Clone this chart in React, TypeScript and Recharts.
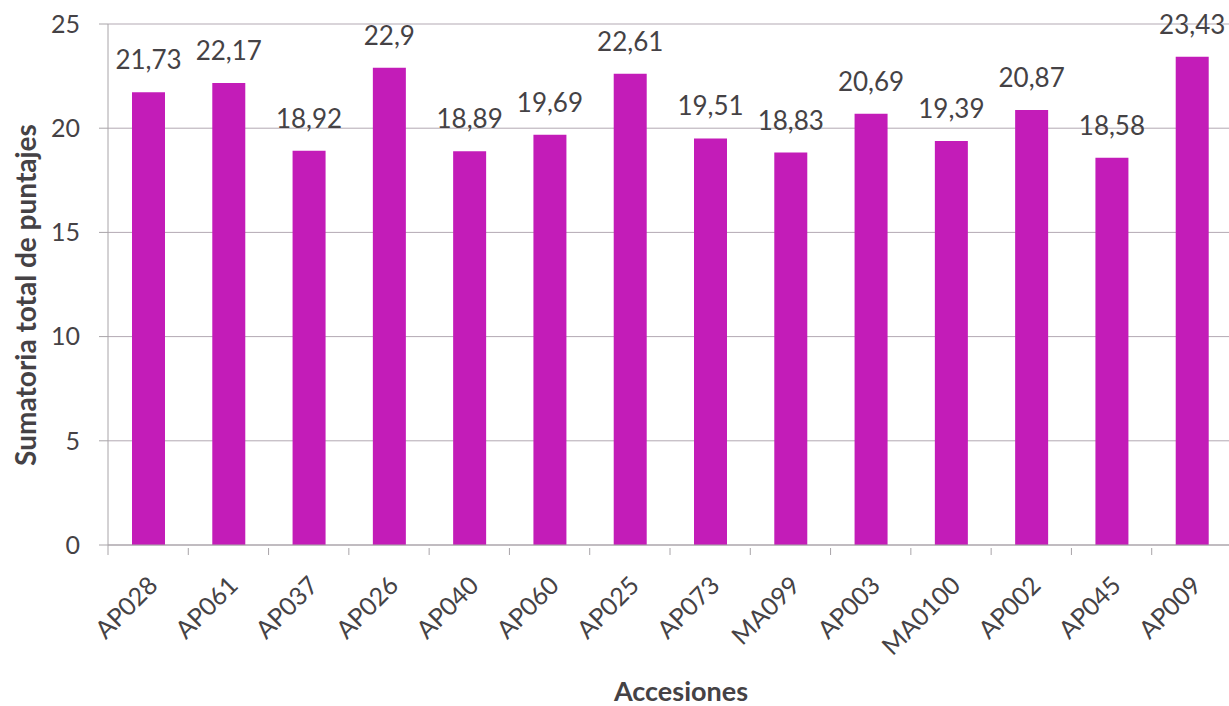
import { Bar, BarChart, CartesianGrid, LabelList, XAxis, YAxis } from 'recharts';

const categories = [
  'AP028', 'AP061', 'AP037', 'AP026', 'AP040', 'AP060', 'AP025',
  'AP073', 'MA099', 'AP003', 'MA0100', 'AP002', 'AP045', 'AP009',
];
const values = [
  21.73, 22.17, 18.92, 22.9, 18.89, 19.69, 22.61,
  19.51, 18.83, 20.69, 19.39, 20.87, 18.58, 23.43,
];
const yTicks = [0, 5, 10, 15, 20, 25];

const data = categories.map((name, i) => ({ name, value: values[i] }));

const WIDTH = 1240;
const HEIGHT = 706;
const MARGIN = { top: 24, right: 8, left: 0, bottom: 0 };
const Y_AXIS_W = 108;
const X_AXIS_H = 161;
const band = (WIDTH - MARGIN.left - MARGIN.right - Y_AXIS_W) / categories.length;
const axisY = HEIGHT - MARGIN.bottom - X_AXIS_H;

const textColor = '#454245';
const font = 'Lato, "Open Sans", sans-serif';

function CategoryTick(props: any) {
  const { x, payload, index } = props;
  const tx = x + 11;
  const ty = axisY + 42;
  return (
    <g>
      {index === 0 && (
        <line x1={x - band / 2} x2={x - band / 2} y1={axisY} y2={axisY + 10} stroke="#a8a4a8" />
      )}
      <line x1={x + band / 2} x2={x + band / 2} y1={axisY + 3} y2={axisY + 10} stroke="#a8a4a8" />
      <text
        x={tx}
        y={ty}
        transform={`rotate(-45 ${tx} ${ty})`}
        textAnchor="end"
        fontSize={25}
        fontFamily={font}
        fill={textColor}
      >
        {payload.value}
      </text>
    </g>
  );
}

export default function App() {
  return (
    <div
      style={{
        position: 'fixed',
        left: 0,
        top: 0,
        width: 1229,
        height: 706,
        overflow: 'hidden',
        background: '#fff',
      }}
    >
      <BarChart width={WIDTH} height={HEIGHT} data={data} margin={MARGIN}>
        <CartesianGrid vertical={false} stroke="#b3a9b3" />
        <XAxis
          dataKey="name"
          height={X_AXIS_H}
          interval={0}
          tickLine={false}
          axisLine={{ stroke: '#a8a4a8' }}
          tick={<CategoryTick />}
        />
        <YAxis
          width={Y_AXIS_W}
          domain={[0, 25]}
          ticks={yTicks}
          interval={0}
          tickSize={9}
          tickMargin={19}
          tickLine={{ stroke: '#a8a4a8' }}
          axisLine={{ stroke: '#a8a4a8' }}
          tick={{ fontSize: 25, fill: textColor, fontFamily: font }}
        />
        <Bar dataKey="value" fill="#c31cb8" barSize={33} isAnimationActive={false}>
          <LabelList
            dataKey="value"
            position="top"
            offset={23}
            formatter={(v: any) => String(v).replace('.', ',')}
            style={{ fontSize: 26, fill: textColor, fontFamily: font }}
          />
        </Bar>
        <text
          x={25}
          y={295}
          transform="rotate(-90 25 295)"
          textAnchor="middle"
          dominantBaseline="central"
          fontSize={28}
          fontWeight="bold"
          fontFamily={font}
          fill={textColor}
        >
          Sumatoria total de puntajes
        </text>
        <text
          x={681}
          y={701}
          textAnchor="middle"
          fontSize={27}
          fontWeight="bold"
          fontFamily={font}
          fill={textColor}
        >
          Accesiones
        </text>
      </BarChart>
    </div>
  );
}
